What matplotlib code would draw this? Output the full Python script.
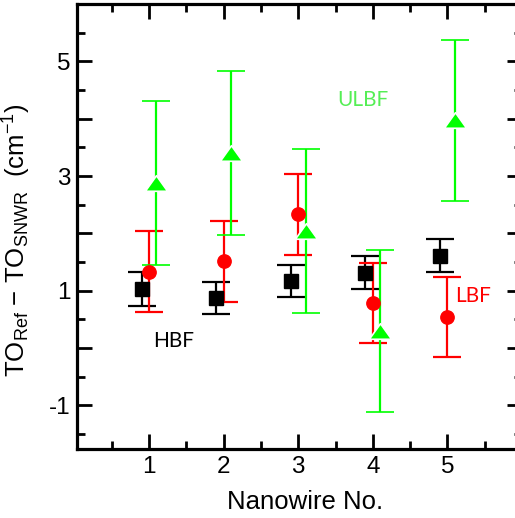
import numpy as np
import matplotlib
matplotlib.use('Agg')
import matplotlib.pyplot as plt
from matplotlib.ticker import FixedLocator, MultipleLocator, FuncFormatter

# номер нанопровода и разности частот TO-мод для трёх фильтров
nanowire = np.array([1, 2, 3, 4, 5])

hbf = [1.03, 0.87, 1.17, 1.31, 1.61]
hbf_err = [0.29, 0.28, 0.28, 0.29, 0.29]

lbf = [1.33, 1.51, 2.33, 0.78, 0.54]
lbf_err = [0.71, 0.70, 0.70, 0.70, 0.69]

ulbf = [2.88, 3.40, 2.04, 0.30, 3.97]
ulbf_err = [1.43, 1.43, 1.43, 1.41, 1.41]

plt.rcParams['font.family'] = ['Liberation Sans', 'DejaVu Sans']
plt.rcParams['mathtext.fontset'] = 'custom'
plt.rcParams['mathtext.rm'] = 'Liberation Sans'
plt.rcParams['mathtext.it'] = 'Liberation Sans'

fig = plt.figure(figsize=(5.15, 5.18), dpi=100)
ax = fig.add_axes([0.1503, 0.1326, 0.8633, 0.8593])

# приплюснутый треугольник
tri = [(-1, -0.7), (1, -0.7), (0, 0.7), (-1, -0.7)]

common = dict(linestyle='none', elinewidth=1.6, capsize=10.4, capthick=1.6)
ax.errorbar(nanowire - 0.1, hbf, yerr=hbf_err, color='black', marker='s',
            markersize=9.5, **common)
ax.errorbar(nanowire, lbf, yerr=lbf_err, color='#ff0000', marker='o',
            markersize=9.6, **common)
ax.errorbar(nanowire + 0.1, ulbf, yerr=ulbf_err, color='#00ff00', marker=tri,
            markersize=16, markeredgecolor='white', markeredgewidth=1.2,
            **common)

ax.text(1.336, 0.12, 'HBF', color='black', fontsize=15, family='Lato',
        ha='center', va='center')
ax.text(3.866, 4.32, 'ULBF', color='#55ee55', fontsize=15, family='Lato',
        ha='center', va='center')
ax.text(5.342, 0.91, 'LBF', color='#ff0000', fontsize=15, family='Lato',
        ha='center', va='center')

ax.set_xlim(0.04, 6.0)
ax.set_ylim(-1.77, 6.0)

ax.xaxis.set_major_locator(FixedLocator([1, 2, 3, 4, 5]))
ax.xaxis.set_minor_locator(FixedLocator([0.5, 1.5, 2.5, 3.5, 4.5, 5.5]))
ax.yaxis.set_major_locator(MultipleLocator(1))
ax.yaxis.set_minor_locator(MultipleLocator(0.5))
ax.yaxis.set_major_formatter(
    FuncFormatter(lambda v, p: '%d' % v if int(round(v)) % 2 else ''))

ax.tick_params(which='both', direction='in', top=True, right=True,
               labelsize=17.5, width=2.0, pad=5)
ax.tick_params(which='major', length=11)
ax.tick_params(which='minor', length=5.5)
for s in ax.spines.values():
    s.set_linewidth(2.3)

ax.set_xlabel('Nanowire No.', fontsize=18.5)
ax.xaxis.set_label_coords(0.512, -0.092)
ax.set_ylabel(r'TO$_{\mathrm{Ref}}$ $-$ TO$_{\mathrm{SNWR}}$  (cm$^{-1}$)',
              fontsize=18.5)
ax.yaxis.set_label_coords(-0.1, 0.47)

fig.savefig('out.png', dpi=100)
